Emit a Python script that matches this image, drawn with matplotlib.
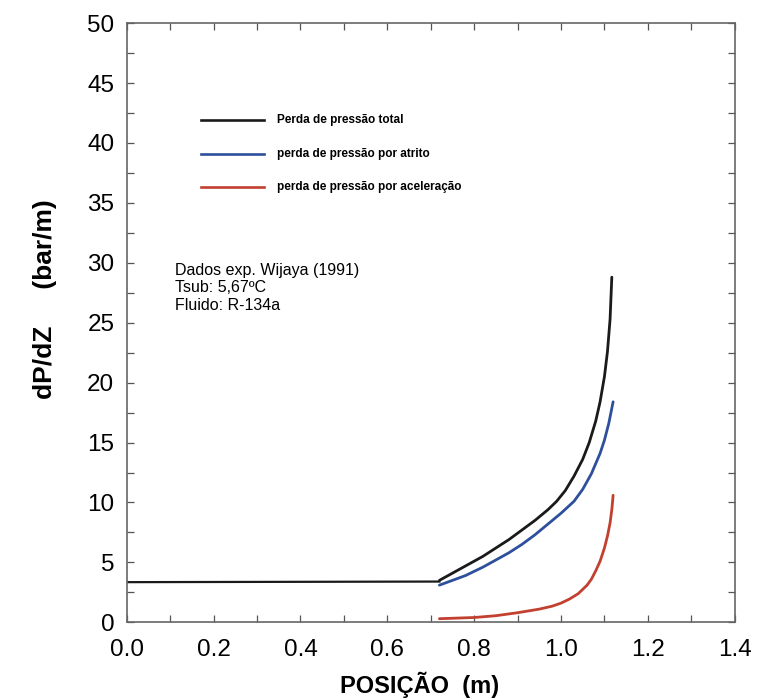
import matplotlib
matplotlib.use("Agg")
import matplotlib.pyplot as plt
from matplotlib.ticker import MultipleLocator

plt.rcParams['font.family'] = ['Liberation Sans', 'DejaVu Sans']

# Data
flat_x = [0.0, 0.72]
flat_y = [3.35, 3.4]

total_x = [0.72, 0.75, 0.78, 0.82, 0.85, 0.88, 0.91, 0.94, 0.97, 0.99, 1.01, 1.03, 1.05, 1.065, 1.08, 1.09, 1.10, 1.107, 1.113, 1.117]
total_y = [3.5, 4.1, 4.7, 5.5, 6.2, 6.9, 7.7, 8.5, 9.4, 10.1, 11.0, 12.2, 13.6, 15.0, 16.8, 18.4, 20.5, 22.6, 25.3, 28.8]

atrito_x = [0.72, 0.75, 0.78, 0.82, 0.85, 0.88, 0.91, 0.94, 0.97, 1.00, 1.03, 1.05, 1.07, 1.09, 1.10, 1.11, 1.12]
atrito_y = [3.1, 3.5, 3.9, 4.6, 5.2, 5.8, 6.5, 7.3, 8.2, 9.1, 10.1, 11.1, 12.4, 14.1, 15.2, 16.6, 18.4]

acel_x = [0.72, 0.80, 0.85, 0.90, 0.95, 0.98, 1.00, 1.02, 1.04, 1.06, 1.07, 1.08, 1.09, 1.10, 1.107, 1.113, 1.117, 1.12]
acel_y = [0.3, 0.4, 0.55, 0.8, 1.1, 1.35, 1.6, 1.95, 2.4, 3.1, 3.6, 4.3, 5.1, 6.2, 7.2, 8.3, 9.4, 10.6]

legend_labels = ["Perda de pressão total",
                 "perda de pressão por atrito",
                 "perda de pressão por aceleração"]
annotation = "Dados exp. Wijaya (1991)\nTsub: 5,67ºC\nFluido: R-134a"

c_black = '#1a1a1a'
c_blue = '#2d4f9c'
c_red = '#c2402f'

fig = plt.figure(figsize=(7.59, 7.00), dpi=100)
ax = fig.add_axes([0.167, 0.111, 0.801, 0.856])

lw = 2.0
ax.plot(flat_x, flat_y, color=c_black, lw=1.6)
ax.plot(total_x, total_y, color=c_black, lw=lw, solid_capstyle='round')
ax.plot(atrito_x, atrito_y, color=c_blue, lw=lw, solid_capstyle='round')
ax.plot(acel_x, acel_y, color=c_red, lw=lw, solid_capstyle='round')

ax.set_xlim(0, 1.4)
ax.set_ylim(0, 50)
ax.xaxis.set_major_locator(MultipleLocator(0.2))
ax.xaxis.set_minor_locator(MultipleLocator(0.1))
ax.yaxis.set_major_locator(MultipleLocator(5))
ax.yaxis.set_minor_locator(MultipleLocator(2.5))
ax.xaxis.set_major_formatter(matplotlib.ticker.FormatStrFormatter('%.1f'))
ax.tick_params(which='both', direction='in', top=True, right=True,
               length=5, width=0.9, color='#555555')
ax.tick_params(which='major', labelsize=17.5)
ax.tick_params(axis='x', which='major', pad=12)
ax.tick_params(axis='y', which='major', pad=9)
for s in ax.spines.values():
    s.set_color('#666666')
    s.set_linewidth(1.2)

# legend drawn manually
leg_y = [41.9, 39.1, 36.3]
leg_c = [c_black, c_blue, c_red]
for yy, cc, lab in zip(leg_y, leg_c, legend_labels):
    ax.plot([0.17, 0.315], [yy, yy], color=cc, lw=1.9)
    ax.text(0.345, yy, lab, fontsize=8.5, fontweight='bold', va='center', ha='left')

ax.text(0.11, 30.0, annotation, fontsize=11.5, va='top', ha='left', linespacing=1.2)

ax.set_xlabel("POSIÇÃO  (m)", fontsize=17, fontweight='bold')
ax.xaxis.set_label_coords(0.482, -0.083)
ax.set_ylabel("dP/dZ     (bar/m)", fontsize=19, fontweight='bold')
ax.yaxis.set_label_coords(-0.115, 0.54)

fig.savefig("out.png", dpi=100)
